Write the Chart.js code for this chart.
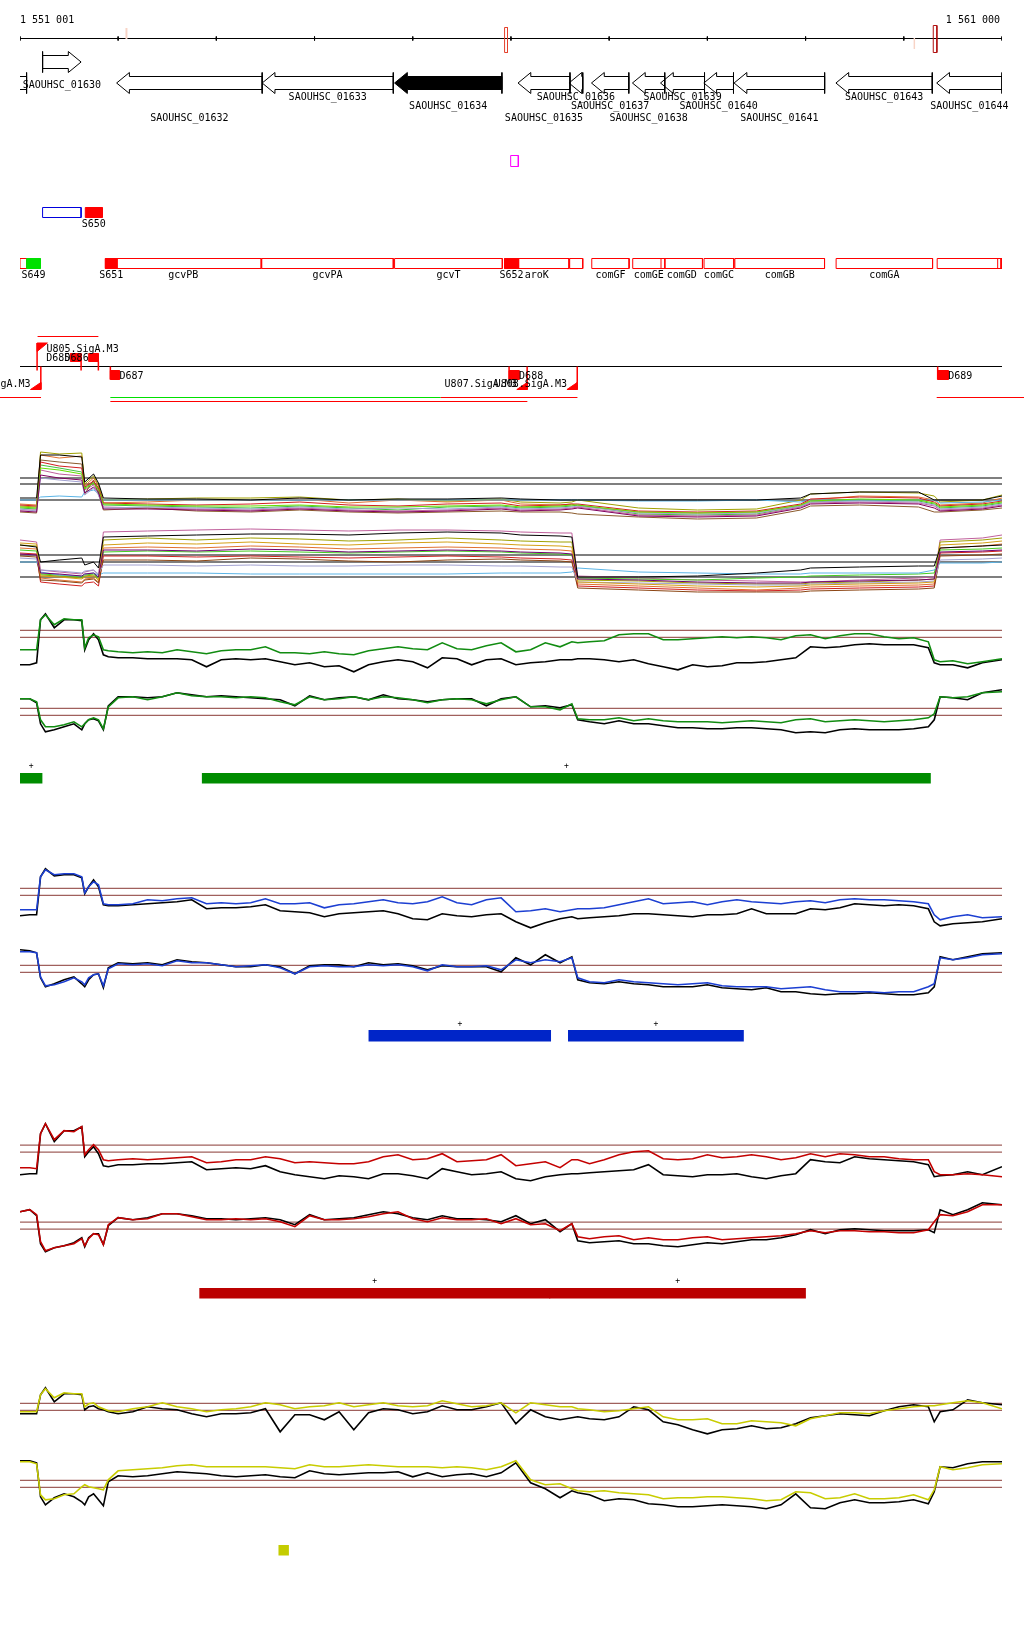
<!DOCTYPE html>
<html>
<head>
<meta charset="utf-8">
<title>1 551 001 - 1 561 000</title>
<script src="https://cdn.jsdelivr.net/npm/chart.js@4.4.1/dist/chart.umd.min.js"></script>
<style>
html, body { margin: 0; padding: 0; background: #fff; }
canvas { display: block; }
</style>
</head>
<body>
<canvas id="view" width="1024" height="1640"></canvas>
<script>
// shown region
var viewStart = 1551001;
var viewEnd = 1561000;
var rulerTicks = [1551001, 1552000, 1553000, 1554000, 1555000, 1556000, 1557000, 1558000, 1559000, 1560000, 1561000];
var rulerMarkStart = [1552075, 1555935, 1560100, 1560300];
var rulerMarkEnd = [1552095, 1555965, 1560115, 1560337];
var rulerMarkKind = ['faint', 'box', 'faint', 'boxDark'];

// genes
var geneNames = ['SAOUHSC_01630', '', 'SAOUHSC_01632', 'SAOUHSC_01633', 'SAOUHSC_01634', 'SAOUHSC_01635', 'SAOUHSC_01636',
  'SAOUHSC_01637', 'SAOUHSC_01638', 'SAOUHSC_01639', 'SAOUHSC_01640', 'SAOUHSC_01641', 'SAOUHSC_01643', 'SAOUHSC_01644'];
var geneStart = [1551231, 1550700, 1551985, 1553467, 1554815, 1556072, 1556591, 1556820, 1557237, 1557523, 1557964, 1558272, 1559309, 1560335];
var geneEnd = [1551623, 1551068, 1553467, 1554802, 1555908, 1556601, 1556731, 1557200, 1557566, 1557971, 1558266, 1559194, 1560290, 1561000];
var geneStrand = [1, -1, -1, -1, -1, -1, -1, -1, -1, -1, -1, -1, -1, -1];
var selectedGene = 'SAOUHSC_01634';

// annotated features
var featNames = ['', 'gcvPB', 'gcvPA', 'gcvT', 'aroK', '', 'comGF', 'comGE', 'comGD', 'comGC', 'comGB', 'comGA', '', ''];
var featStart = [1551001, 1551870, 1553463, 1554815, 1555935, 1556598, 1556823, 1557240, 1557528, 1557966, 1558280, 1559311, 1560340, 1560956];
var featEnd = [1551068, 1553457, 1554802, 1555912, 1556591, 1556731, 1557203, 1557567, 1557950, 1558269, 1559193, 1560293, 1561000, 1560990];
var siteNames = ['S649', 'S651', 'S652'];
var siteStart = [1551068, 1551870, 1555935];
var siteEnd = [1551208, 1551989, 1556078];
var greenSites = ['S649'];
var upperSite = ['S650', 1551666, 1551839];
var blueBox = [1551231, 1551623];
var magentaBox = [1555997, 1556075];

// promoters, sites, transcripts
var promNames = ['U804.SigA.M3', 'U805.SigA.M3', 'U807.SigA.M3', 'U808.SigA.M3'];
var promPos = [1551213, 1551175, 1556165, 1556675];
var promStrand = [-1, 1, -1, -1];
var dNames = ['D685', 'D686', 'D687', 'D688', 'D689'];
var dStart = [1551514, 1551700, 1551921, 1555981, 1560345];
var dEnd = [1551623, 1551799, 1552013, 1556083, 1560453];
var dStrand = [1, 1, -1, -1, -1];
var txStart = [1551180, 1550790, 1551921, 1555285, 1551921, 1560335];
var txEnd = [1551799, 1551215, 1555285, 1556677, 1556167, 1561250];
var txLane = [0, 1, 1, 1, 2, 1];
var txKind = ['r', 'r', 'g', 'r', 'r', 'r'];

// profile panel with all conditions
var posA = [1551001, 1551170, 1551210, 1551400, 1551630, 1551660, 1551750, 1551800, 1551850, 1552300, 1552800, 1553350, 1553850, 1554350, 1554850, 1555350,
  1555900, 1556100, 1556500, 1556620, 1556680, 1557300, 1557900, 1558500, 1558950, 1559050, 1559550, 1560150, 1560310, 1560370, 1560800, 1561000];
var refLevelsUp = [2.2, 1.6, 0];
var refLevelsLo = [0.7, 0, -1.5];
var aUpRef = [0.2,0.2,4.5,4.5,4.3,1.8,2.6,1.7,0.2,0.1,0.1,0,0.2,0,0.1,0.1,0.2,0.1,0,0,0,0,0,0,0.2,0.6,0.8,0.8,0,0,0,0.4];
var aUp1 = [-0.4,-0.5,4.5,4.2,4.4,1.4,2.2,1.4,-0.3,-0.2,0,0,0.1,-0.3,0,-0.2,0,-0.4,-0.5,-0.4,-0.6,-1.2,-1.3,-1.2,-0.5,0,0.4,0.3,0,-0.5,-0.3,0.2];
var aUp2 = [-0.6,-0.7,4.8,4.6,4.7,1.6,2.4,1.5,0,0.1,0.2,0.2,0.3,0,0.1,-0.1,0.1,-0.2,-0.3,-0.2,0,-0.8,-1.0,-0.9,0,0.6,0.8,0.7,0.4,-0.2,0,0.5];
var aUp3 = [-0.8,-0.9,3.5,3.2,2.8,1.2,1.8,1.1,-0.5,-0.6,-0.7,-0.8,-0.6,-0.8,-1.0,-0.7,-0.6,-0.8,-0.7,-0.6,-0.5,-1.4,-1.5,-1.4,-0.6,-0.2,0,-0.1,-0.4,-0.8,-0.6,-0.3];
var aUp4 = [-1.0,-1.0,3.0,2.6,2.4,1.0,1.5,0.9,-0.7,-0.8,-0.9,-1.0,-0.8,-1.0,-1.1,-1.0,-0.8,-1.0,-0.9,-0.8,-0.7,-1.5,-1.6,-1.5,-0.7,-0.3,-0.2,-0.3,-0.6,-1.0,-0.8,-0.5];
var aUp5 = [0,0,0.3,0.4,0.3,0.8,1.0,0.7,0,0,0,0,0,0,0,0,0,0,0,0,0,-0.1,-0.1,0,-0.2,0,0,0,0,-0.3,-0.2,0];
var aUp6 = [-1.2,-1.3,4.0,3.8,3.6,0.6,2.0,0.6,-1.0,-0.8,-1.1,-1.2,-1.0,-1.2,-1.3,-1.2,-1.1,-1.2,-1.2,-1.3,-1.4,-1.7,-1.9,-1.8,-1.0,-0.6,-0.5,-0.7,-1.2,-1.2,-1.0,-0.8];
var aUp7 = [-0.5,-0.6,3.8,3.4,3.2,1.3,1.9,1.2,-0.3,-0.4,-0.5,-0.4,-0.2,-0.5,-0.6,-0.4,-0.3,-0.6,-0.5,-0.4,-0.4,-1.1,-1.2,-1.1,-0.4,0.1,0.3,0.2,-0.2,-0.6,-0.4,-0.1];
var aUp8 = [-0.9,-1.1,2.2,2.0,1.8,0.5,1.2,0.5,-0.8,-0.7,-0.8,-0.9,-0.7,-0.9,-0.8,-0.9,-0.7,-0.9,-0.8,-0.7,-0.6,-1.3,-1.4,-1.3,-0.6,-0.2,-0.1,-0.2,-0.5,-0.9,-0.7,-0.4];
var aUp9 = [-0.7,-0.8,3.2,3.0,2.6,1.1,1.7,1.0,-0.4,-0.5,-0.6,-0.6,-0.5,-0.7,-0.7,-0.6,-0.5,-0.7,-0.6,-0.5,-0.5,-1.2,-1.3,-1.2,-0.5,-0.1,0.1,0,-0.3,-0.7,-0.5,-0.2];
var aUp10 = [-1.1,-1.2,2.5,2.2,2.0,0.7,1.3,0.8,-0.9,-0.9,-1.0,-1.1,-0.9,-1.1,-1.2,-1.1,-0.9,-1.1,-1.0,-0.9,-0.8,-1.6,-1.7,-1.6,-0.8,-0.4,-0.3,-0.4,-0.8,-1.1,-0.9,-0.6];
var aLoRef = [1.7,1.5,0,0.2,0.4,-0.3,0,-0.6,2.5,2.6,2.7,2.8,2.8,2.7,2.9,3.0,2.9,2.7,2.6,2.5,-1.5,-1.5,-1.4,-1.1,-0.8,-0.6,-0.5,-0.4,-0.4,1.4,1.6,1.7];
var aLo1 = [2.2,2.0,-0.8,-1.0,-1.2,-1.0,-0.8,-1.3,3.0,3.1,3.2,3.3,3.2,3.1,3.2,3.2,3.1,3.0,2.9,2.9,-1.4,-1.6,-1.8,-1.9,-2.0,-2.0,-1.8,-1.6,-1.5,2.2,2.4,2.7];
var aLo2 = [1.7,1.6,-1.3,-1.4,-1.6,-1.4,-1.3,-1.8,2.2,2.4,2.2,2.4,2.3,2.1,2.2,2.4,2.2,2.1,2.0,2.0,-1.8,-1.9,-2.1,-2.2,-2.2,-2.1,-2.0,-1.8,-1.7,2.0,2.2,2.4];
var aLo3 = [1.4,1.3,-1.6,-1.8,-2.0,-1.7,-1.6,-2.0,1.4,1.5,1.4,1.6,1.5,1.3,1.4,1.5,1.4,1.3,1.2,1.1,-2.2,-2.4,-2.6,-2.8,-2.6,-2.5,-2.4,-2.3,-2.2,1.4,1.6,1.8];
var aLo4 = [1.2,1.1,-1.2,-1.3,-1.5,-1.3,-1.2,-1.6,1.0,1.1,1.0,1.1,1.0,0.9,1.0,1.1,1.0,0.9,0.8,0.7,-1.6,-1.7,-1.8,-1.6,-1.5,-1.4,-1.3,-1.2,-1.1,1.2,1.3,1.4];
var aLo5 = [0,0,-1.0,-1.3,-1.4,-1.2,-1.1,-1.3,-1.1,-1.1,-1.1,-1.2,-1.2,-1.2,-1.2,-1.2,-1.1,-1.1,-1.1,-1.0,-0.6,-1.0,-1.1,-1.2,-1.2,-1.1,-1.1,-1.1,-0.8,-0.1,-0.1,0];
var aLo6 = [0.9,0.8,-2.0,-2.2,-2.4,-2.1,-2.0,-2.4,0.6,0.6,0.5,0.6,0.5,0.4,0.5,0.6,0.5,0.4,0.3,0.2,-2.4,-2.6,-2.8,-2.9,-2.8,-2.7,-2.6,-2.5,-2.4,0.9,1.0,1.1];
var aLo7 = [0.6,0.5,-1.8,-1.9,-2.1,-1.8,-1.7,-2.1,0.2,0.2,0.1,0.4,0.3,0.1,0,0.2,0.3,0.2,0.1,0,-2.6,-2.8,-3.0,-3.0,-3.0,-2.9,-2.8,-2.7,-2.6,0.6,0.7,0.8];
var aLo8 = [0.4,0.3,-0.8,-0.9,-1.1,-0.9,-0.8,-1.2,-0.3,-0.3,-0.4,-0.3,-0.4,-0.4,-0.3,-0.3,-0.4,-0.4,-0.5,-0.5,-2.0,-2.1,-2.2,-2.3,-2.3,-2.2,-2.1,-2.0,-1.9,0.2,0.3,0.4];
var aLo9 = [1.9,1.8,-1.4,-1.5,-1.7,-1.5,-1.4,-1.8,1.7,1.9,1.8,2.0,1.8,1.7,1.9,2.0,1.8,1.7,1.6,1.5,-2.0,-2.2,-2.4,-2.5,-2.4,-2.3,-2.2,-2.1,-2.0,1.7,1.9,2.1];
var aLo10 = [0.8,0.7,-1.1,-1.2,-1.4,-1.2,-1.1,-1.5,1.2,1.2,1.1,1.3,1.2,1.0,1.1,1.2,1.1,1.0,0.9,0.8,-1.7,-1.8,-2.0,-2.1,-2.1,-2.0,-1.9,-1.8,-1.7,1.0,1.1,1.2];

// profiles of the four selected conditions (upper = forward, lower = reverse strand)
var pos = [1551001,1551100,1551170,1551210,1551260,1551350,1551450,1551550,1551630,1551660,1551700,1551750,1551800,1551850,1551900,
  1552000,1552150,1552300,1552450,1552600,1552750,1552900,1553050,1553200,1553350,1553500,1553650,1553800,1553950,1554100,1554250,1554400,
  1554550,1554700,1554850,1555000,1555150,1555300,1555450,1555600,1555750,1555900,1556050,1556200,1556350,1556500,1556620,1556680,
  1556800,1556950,1557100,1557250,1557400,1557550,1557700,1557850,1558000,1558150,1558300,1558450,1558600,1558750,1558900,1559050,
  1559200,1559350,1559500,1559650,1559800,1559950,1560100,1560250,1560310,1560370,1560500,1560650,1560800,1561000];
var threshold = 0.35;

var greenUp = [-1.6,-1.6,-1.6,1.4,1.9,0.9,1.5,1.4,1.4,-1.4,-0.4,-0.1,-0.3,-1.6,-1.7,-1.8,-1.9,-1.8,-1.9,-1.6,-1.8,-2.0,-1.7,-1.6,-1.6,-1.3,-1.9,-1.9,-2.0,-1.8,-2.0,-2.1,-1.7,-1.5,-1.3,-1.5,-1.6,-0.9,-1.5,-1.6,-1.2,-0.9,-1.8,-1.6,-0.9,-1.3,-0.8,-0.9,-0.8,-0.7,-0.1,0.0,0.0,-0.6,-0.6,-0.5,-0.4,-0.3,-0.4,-0.3,-0.4,-0.6,-0.2,-0.1,-0.5,-0.2,0.0,0.0,-0.3,-0.5,-0.4,-0.8,-2.6,-2.8,-2.7,-3.0,-2.8,-2.5];
var greenUpRef = [-3.1,-3.1,-2.9,1.4,2.0,0.6,1.4,1.4,1.3,-1.6,-0.6,0.0,-0.6,-2.1,-2.3,-2.4,-2.4,-2.5,-2.5,-2.5,-2.6,-3.3,-2.6,-2.5,-2.6,-2.5,-2.8,-3.1,-2.9,-3.3,-3.2,-3.8,-3.1,-2.8,-2.6,-2.8,-3.4,-2.4,-2.5,-3.1,-2.6,-2.5,-3.1,-2.9,-2.8,-2.6,-2.6,-2.5,-2.5,-2.6,-2.8,-2.6,-3.0,-3.3,-3.6,-3.1,-3.3,-3.2,-2.9,-2.9,-2.8,-2.6,-2.4,-1.3,-1.4,-1.3,-1.1,-1.0,-1.1,-1.1,-1.1,-1.4,-2.9,-3.1,-3.1,-3.4,-2.9,-2.6];
var greenLo = [1.3,1.3,1.0,-0.8,-1.5,-1.5,-1.3,-1.0,-1.5,-1.2,-0.8,-0.6,-0.8,-1.7,0.5,1.4,1.5,1.2,1.5,1.9,1.6,1.5,1.5,1.4,1.5,1.4,1.0,0.7,1.5,1.2,1.3,1.5,1.2,1.5,1.4,1.2,0.9,1.2,1.3,1.2,0.8,1.2,1.5,0.5,0.5,0.2,0.8,-0.7,-0.8,-0.8,-0.6,-0.9,-0.7,-0.9,-1.0,-1.0,-1.0,-1.1,-1.0,-0.9,-1.0,-1.1,-0.8,-0.7,-1.0,-0.9,-0.8,-0.9,-1.0,-0.9,-0.8,-0.6,-0.2,1.5,1.4,1.5,1.9,2.0];
var greenLoRef = [1.3,1.3,0.9,-1.2,-2.0,-1.8,-1.5,-1.2,-1.8,-1.2,-0.8,-0.7,-0.9,-1.8,0.6,1.5,1.5,1.4,1.5,1.9,1.7,1.5,1.6,1.5,1.4,1.3,1.2,0.6,1.6,1.2,1.4,1.5,1.2,1.7,1.3,1.2,1.0,1.2,1.3,1.3,0.6,1.3,1.5,0.5,0.6,0.4,0.7,-0.8,-1.0,-1.2,-0.9,-1.2,-1.2,-1.4,-1.6,-1.6,-1.7,-1.7,-1.6,-1.6,-1.7,-1.8,-2.1,-2.0,-2.1,-1.8,-1.7,-1.8,-1.8,-1.8,-1.7,-1.5,-0.8,1.5,1.4,1.2,1.9,2.2];

var blueUp = [-1.8,-1.8,-1.8,1.5,2.2,1.7,1.8,1.8,1.5,-0.1,0.5,1.0,0.7,-1.2,-1.3,-1.3,-1.2,-0.8,-0.9,-0.7,-0.6,-1.2,-1.1,-1.2,-1.1,-0.7,-1.2,-1.2,-1.1,-1.6,-1.3,-1.2,-1.0,-0.8,-1.1,-1.2,-1.0,-0.5,-1.1,-1.3,-0.8,-0.6,-2.0,-1.9,-1.7,-2.0,-1.8,-1.7,-1.7,-1.6,-1.3,-1.0,-0.7,-1.2,-1.1,-1.0,-1.3,-1.0,-0.8,-1.0,-1.1,-1.2,-1.0,-0.9,-1.1,-0.8,-0.7,-0.8,-0.8,-0.9,-1.0,-1.2,-2.3,-2.8,-2.5,-2.3,-2.6,-2.5];
var blueUpRef = [-2.4,-2.3,-2.3,1.5,2.3,1.6,1.7,1.7,1.4,-0.2,0.5,1.2,0.5,-1.3,-1.4,-1.4,-1.3,-1.2,-1.1,-1.0,-0.8,-1.7,-1.6,-1.6,-1.5,-1.3,-1.9,-2.0,-2.1,-2.5,-2.2,-2.1,-2.0,-1.9,-2.2,-2.7,-2.8,-2.2,-2.4,-2.5,-2.3,-2.2,-3.0,-3.6,-3.1,-2.7,-2.5,-2.7,-2.6,-2.5,-2.4,-2.2,-2.2,-2.3,-2.4,-2.5,-2.3,-2.3,-2.2,-1.7,-2.2,-2.2,-2.2,-1.7,-1.8,-1.6,-1.2,-1.3,-1.4,-1.3,-1.4,-1.7,-3.0,-3.4,-3.2,-3.1,-3.0,-2.7];
var blueLo = [1.7,1.7,1.6,-0.8,-1.7,-1.6,-1.3,-0.9,-1.3,-1.6,-0.9,-0.6,-0.5,-1.7,0.0,0.5,0.4,0.5,0.3,0.8,0.6,0.6,0.4,0.2,0.3,0.4,0.1,-0.5,0.2,0.3,0.2,0.2,0.4,0.3,0.4,0.2,-0.2,0.4,0.2,0.2,0.3,-0.1,0.9,0.6,0.9,0.7,1.1,-0.9,-1.3,-1.4,-1.1,-1.3,-1.4,-1.5,-1.6,-1.5,-1.4,-1.7,-1.8,-1.8,-1.8,-2.0,-1.9,-1.8,-2.1,-2.3,-2.3,-2.3,-2.4,-2.3,-2.3,-1.8,-1.5,1.1,0.9,1.1,1.4,1.5];
var blueLoRef = [1.9,1.8,1.6,-0.9,-1.8,-1.5,-1.1,-0.8,-1.5,-1.8,-1.1,-0.6,-0.5,-1.9,0.1,0.6,0.5,0.6,0.4,0.9,0.7,0.6,0.4,0.2,0.2,0.4,0.2,-0.5,0.3,0.4,0.4,0.2,0.6,0.4,0.5,0.3,-0.1,0.3,0.2,0.2,0.2,-0.3,1.1,0.4,1.4,0.6,1.2,-1.1,-1.4,-1.5,-1.3,-1.5,-1.6,-1.8,-1.8,-1.8,-1.6,-1.9,-2.0,-2.1,-1.9,-2.3,-2.3,-2.5,-2.6,-2.5,-2.5,-2.4,-2.5,-2.6,-2.6,-2.4,-1.8,1.2,0.9,1.2,1.5,1.6];

var redUp = [-1.9,-1.9,-2.0,1.5,2.5,0.9,1.8,1.7,2.2,-0.6,-0.1,0.4,-0.1,-1.1,-1.2,-1.1,-1.0,-1.1,-1.0,-0.9,-0.8,-1.4,-1.3,-1.1,-1.1,-0.8,-1.0,-1.4,-1.3,-1.4,-1.5,-1.5,-1.3,-0.8,-0.6,-1.1,-1.0,-0.5,-1.3,-1.2,-1.1,-0.6,-1.7,-1.5,-1.3,-1.9,-1.1,-1.1,-1.5,-1.1,-0.6,-0.3,-0.2,-1.0,-1.1,-1.0,-0.6,-0.9,-0.8,-0.6,-0.8,-1.1,-0.9,-0.5,-0.8,-0.5,-0.6,-0.8,-0.8,-1.0,-1.1,-1.1,-2.3,-2.6,-2.6,-2.5,-2.6,-2.8];
var redUpRef = [-2.6,-2.5,-2.5,1.5,2.5,0.7,1.8,1.8,2.2,-0.8,-0.3,0.2,-0.5,-1.7,-1.8,-1.6,-1.6,-1.5,-1.5,-1.4,-1.3,-2.1,-2.0,-1.9,-2.0,-1.7,-2.3,-2.6,-2.8,-3.0,-2.7,-2.8,-3.0,-2.5,-2.5,-2.7,-3.0,-2.0,-2.3,-2.6,-2.5,-2.3,-3.0,-3.2,-2.8,-2.6,-2.5,-2.5,-2.4,-2.3,-2.2,-2.1,-1.6,-2.6,-2.7,-2.8,-2.6,-2.6,-2.5,-2.8,-3.0,-2.7,-2.5,-1.1,-1.3,-1.4,-0.8,-1.0,-1.1,-1.2,-1.3,-1.6,-2.8,-2.7,-2.6,-2.3,-2.6,-1.8];
var redLo = [1.4,1.6,1.1,-1.6,-2.5,-2.2,-2.0,-1.8,-1.3,-2.0,-1.3,-0.8,-0.9,-1.9,0.1,0.8,0.6,0.7,1.2,1.2,0.9,0.6,0.6,0.7,0.6,0.7,0.4,-0.1,1.0,0.6,0.6,0.7,0.9,1.2,1.4,0.7,0.4,0.8,0.6,0.6,0.7,0.2,0.7,0.1,0.2,-0.5,0.2,-1.1,-1.3,-1.1,-1.0,-1.4,-1.2,-1.4,-1.4,-1.2,-1.1,-1.4,-1.3,-1.2,-1.1,-1.0,-0.8,-0.5,-0.7,-0.5,-0.5,-0.6,-0.6,-0.7,-0.7,-0.4,0.4,1.1,1.0,1.4,2.1,2.1];
var redLoRef = [1.4,1.6,1.0,-1.8,-2.6,-2.2,-2.0,-1.7,-1.2,-2.1,-1.2,-0.8,-0.8,-1.9,0.0,0.8,0.6,0.8,1.2,1.2,1.0,0.7,0.7,0.6,0.7,0.8,0.6,0.1,1.1,0.6,0.7,0.8,1.1,1.4,1.2,0.8,0.6,1.0,0.7,0.7,0.6,0.4,1.0,0.2,0.6,-0.6,0.2,-1.5,-1.7,-1.6,-1.5,-1.8,-1.8,-2.0,-2.1,-1.9,-1.7,-1.8,-1.6,-1.4,-1.4,-1.2,-0.9,-0.4,-0.8,-0.4,-0.3,-0.4,-0.5,-0.5,-0.5,-0.4,-0.7,1.6,1.1,1.6,2.3,2.1];

var yellowUp = [-0.5,-0.5,-0.5,1.2,1.8,0.9,1.4,1.3,1.3,0.0,0.3,0.4,0.0,-0.2,-0.4,-0.5,-0.2,0.0,0.4,0.0,-0.2,-0.5,-0.3,-0.2,0.0,0.4,0.2,-0.2,0.0,0.1,0.4,0.0,0.2,0.4,0.1,0.0,0.1,0.6,0.3,0.0,0.1,0.4,-0.6,0.4,0.2,0.0,0.0,-0.2,-0.3,-0.5,-0.4,-0.2,0.0,-1.0,-1.3,-1.3,-1.2,-1.7,-1.7,-1.4,-1.5,-1.6,-1.9,-1.2,-0.9,-0.6,-0.6,-0.7,-0.4,-0.2,0.0,0.1,0.1,0.2,0.4,0.6,0.4,-0.2];
var yellowUpRef = [-0.7,-0.7,-0.7,1.2,1.9,0.5,1.3,1.3,1.2,-0.3,0.0,0.1,-0.2,-0.3,-0.5,-0.7,-0.5,0.0,-0.2,-0.3,-0.7,-1.0,-0.7,-0.7,-0.6,-0.2,-2.5,-0.8,-0.8,-1.3,-0.5,-2.3,-0.6,-0.2,-0.3,-0.7,-0.5,0.1,-0.3,-0.3,0.0,0.4,-1.7,-0.3,-1.0,-1.3,-1.1,-1.0,-1.2,-1.3,-1.0,0.0,-0.3,-1.5,-1.8,-2.3,-2.7,-2.3,-2.2,-1.9,-2.2,-2.1,-1.7,-1.1,-0.9,-0.7,-0.8,-0.9,-0.4,0.0,0.2,0.0,-1.5,-0.5,-0.3,0.7,0.4,0.2];
var yellowLo = [2.2,2.2,2.0,-1.1,-1.6,-1.5,-1.1,-1.0,-0.3,-0.1,-0.3,-0.4,-0.5,-0.6,0.4,1.3,1.4,1.5,1.6,1.8,1.9,1.7,1.7,1.7,1.7,1.7,1.6,1.5,1.9,1.7,1.7,1.8,1.9,1.8,1.7,1.7,1.7,1.6,1.7,1.6,1.4,1.7,2.3,0.4,-0.1,0.0,-0.5,-0.7,-0.8,-0.7,-0.9,-1.0,-1.1,-1.5,-1.4,-1.4,-1.3,-1.3,-1.4,-1.5,-1.7,-1.6,-0.8,-0.9,-1.5,-1.4,-1.0,-1.5,-1.5,-1.4,-1.1,-1.6,-0.6,1.7,1.4,1.6,1.9,2.0];
var yellowLoRef = [2.3,2.3,2.1,-1.3,-2.1,-1.4,-1.0,-1.3,-1.8,-2.1,-1.3,-1.0,-1.6,-2.2,0.2,0.8,0.7,0.8,1.0,1.2,1.1,1.0,0.8,0.7,0.8,0.9,0.7,0.6,1.3,1.0,0.9,1.0,1.1,1.1,1.2,0.7,1.1,0.7,0.9,1.0,0.7,1.1,2.1,0.1,-0.5,-1.4,-0.7,-0.9,-1.1,-1.7,-1.5,-1.6,-2.0,-2.1,-2.3,-2.3,-2.2,-2.1,-2.2,-2.3,-2.5,-2.1,-1.0,-2.4,-2.5,-1.9,-1.6,-1.9,-1.9,-1.8,-1.6,-2.0,-0.8,1.7,1.6,2.0,2.2,2.2];

// enriched segments per condition
var greenRegions = [[1551001, 1551229], [1552853, 1560275]];
var blueRegions = [[1554550, 1556408], [1556581, 1558371]];
var redRegions = [[1552827, 1556400], [1556390, 1559003]];
var yellowRegions = [[1553633, 1553739]];

// ---------- layout and styles ----------
var layout = {
  rulerY: 38.5, tickY: [36.5, 40.5], rulerLabelY: 20,
  rulerMarkY: [[28, 39], [27.5, 52.5], [38, 49], [25.5, 52.5]],
  fwdBody: [55.5, 68.5], fwdHead: [51.5, 72.5], fwdLabelY: 85,
  revBody: [76.5, 89.5], revHead: [72.5, 93.5], revLabelY: [118.5, 97.5, 106.5],
  headLen: 130,
  magentaY: [155.5, 166.5],
  siteRowY: [207.5, 217.5], siteRowLabelY: 224.5,
  featY: [258.5, 268.5], featLabelY: 275.5,
  txLaneY: [336.5, 397.5, 401.5],
  promFwdY: [343, 351.5], promRevY: [382.5, 389.5], promTri: 105,
  promLabelFwdY: 349.5, promLabelRevY: 384,
  strandY: 366.5, stemY: 370.5,
  dFwdY: [353.5, 361.5], dRevY: [370.5, 379.5], dLabelFwdY: 358.5, dLabelRevY: 376,
  pxPerUnit: 10
};
var axisCenter = { aUp: 500, aLo: 562, bUp: 633.8, bLo: 711.8, cUp: 891.8, cLo: 968.8, dUp: 1148.7, dLo: 1225.7, eUp: 1406.8, eLo: 1483.8 };
var RED = '#ff0000';
var font = '10px "DejaVu Sans Mono", "Liberation Mono", monospace';
var colorsUpA = ['#e07030', '#a0a000', '#40c040', '#c0609c', '#5ab4e6', '#8b5a2b', '#d02020', '#a0a0d0', '#66dd00', '#800060'];
var colorsLoA = ['#c0609c', '#a0a000', '#e07030', '#44cc22', '#5ab4e6', '#d02020', '#8b4513', '#a0a0d0', '#d4a017', '#700070'];

var tracks = [
  { up: 'bUp', lo: 'bLo', line: '#118c11', bar: '#008c00', vals: [greenUp, greenUpRef, greenLo, greenLoRef], regions: greenRegions, barY: [773, 783.5], plusY: 766, plus: true },
  { up: 'cUp', lo: 'cLo', line: '#1c3fd2', bar: '#0025c8', vals: [blueUp, blueUpRef, blueLo, blueLoRef], regions: blueRegions, barY: [1030, 1041.5], plusY: 1023.5, plus: true },
  { up: 'dUp', lo: 'dLo', line: '#c40000', bar: '#bb0000', vals: [redUp, redUpRef, redLo, redLoRef], regions: redRegions, barY: [1288, 1298.5], plusY: 1281, plus: true },
  { up: 'eUp', lo: 'eLo', line: '#c8cc00', bar: '#c4cc00', vals: [yellowUp, yellowUpRef, yellowLo, yellowLoRef], regions: yellowRegions, barY: [1545, 1555.5], plusY: 1538, plus: false }
];

// ---------- build datasets ----------
var datasets = [];
var labels = [];
function P(x, y) { return { x: x, y: y }; }
function box(x0, x1, y0, y1) { return [P(x0, y0), P(x1, y0), P(x1, y1), P(x0, y1), P(x0, y0)]; }
function path(points, o) {
  o = o || {};
  var ds = {
    data: points,
    yAxisID: o.axis || 'rows',
    borderColor: o.stroke || 'transparent',
    borderWidth: o.stroke ? (o.width || 1) : 0,
    backgroundColor: o.fill || 'transparent',
    fill: o.fill ? 'shape' : false,
    pointRadius: 0,
    tension: 0
  };
  if (o.noClip) ds.clip = false;
  datasets.push(ds);
}
function label(text, x, y, align, f) { labels.push({ text: text, x: x, y: y, align: align || 'center', font: f || font }); }
function fmt(n) { return String(n).replace(/\B(?=(\d{3})+(?!\d))/g, ' '); }
function series(p, v) { return p.map(function (x, i) { return P(x, v[i]); }); }
var L = layout;

// ruler
path([P(viewStart, L.rulerY), P(viewEnd, L.rulerY)], { stroke: '#000' });
var tickPts = [];
rulerTicks.forEach(function (t) { tickPts.push(P(t, L.tickY[0]), P(t, L.tickY[1]), P(t, null)); });
path(tickPts, { stroke: '#000' });
rulerMarkStart.forEach(function (s, i) {
  var y = L.rulerMarkY[i], k = rulerMarkKind[i];
  if (k === 'faint') path(box(s, rulerMarkEnd[i], y[0], y[1]), { fill: '#f8d4c6' });
  else path(box(s, rulerMarkEnd[i], y[0], y[1]), { stroke: k === 'box' ? '#e4402c' : '#b01010' });
});
label(fmt(viewStart), viewStart, L.rulerLabelY, 'left');
label(fmt(viewEnd), viewEnd - 20, L.rulerLabelY, 'right');

// genes
var revCount = 0;
geneStart.forEach(function (s, i) {
  var e = geneEnd[i], fwd = geneStrand[i] > 0;
  var body = fwd ? L.fwdBody : L.revBody, head = fwd ? L.fwdHead : L.revHead;
  var mid = (head[0] + head[1]) / 2, h = Math.min(L.headLen, e - s), pts, hb;
  if (fwd) {
    hb = e - h;
    pts = [P(s, body[0]), P(hb, body[0]), P(hb, head[0]), P(e, mid), P(hb, head[1]), P(hb, body[1]), P(s, body[1]), P(s, body[0])];
  } else {
    hb = s + h;
    pts = [P(e, body[0]), P(hb, body[0]), P(hb, head[0]), P(s, mid), P(hb, head[1]), P(hb, body[1]), P(e, body[1]), P(e, body[0])];
  }
  var sel = geneNames[i] === selectedGene;
  path(pts, { stroke: '#000', fill: sel ? '#000' : null });
  var cap = fwd ? s : e;
  path([P(cap, head[0]), P(cap, head[1])], { stroke: '#000' });
  if (geneNames[i]) {
    var ly = fwd ? L.fwdLabelY : L.revLabelY[revCount++ % 3];
    label(geneNames[i], (s + e) / 2, ly);
  }
});

// small marks above the feature row
path(box(magentaBox[0], magentaBox[1], L.magentaY[0], L.magentaY[1]), { stroke: '#ff00ff' });
path(box(blueBox[0], blueBox[1], L.siteRowY[0], L.siteRowY[1]), { stroke: '#0000dd' });
path(box(upperSite[1], upperSite[2], L.siteRowY[0], L.siteRowY[1]), { fill: RED, stroke: RED });
label(upperSite[0], (upperSite[1] + upperSite[2]) / 2, L.siteRowLabelY);

// feature row
featStart.forEach(function (s, i) {
  path(box(s, featEnd[i], L.featY[0], L.featY[1]), { stroke: RED });
  if (featNames[i]) label(featNames[i], (s + featEnd[i]) / 2, L.featLabelY);
});
siteStart.forEach(function (s, i) {
  var c = greenSites.indexOf(siteNames[i]) >= 0 ? '#00e000' : RED;
  path(box(s, siteEnd[i], L.featY[0], L.featY[1]), { fill: c, stroke: c });
  label(siteNames[i], (s + siteEnd[i]) / 2, L.featLabelY);
});

// transcripts, promoters, sites
txStart.forEach(function (s, i) {
  var y = L.txLaneY[txLane[i]];
  path([P(s, y), P(txEnd[i], y)], { stroke: txKind[i] === 'g' ? '#00e000' : RED, width: 1.2, noClip: true });
});
path([P(viewStart, L.strandY), P(viewEnd, L.strandY)], { stroke: '#000' });
promPos.forEach(function (p, i) {
  var t = L.promTri;
  if (promStrand[i] > 0) {
    var f = L.promFwdY;
    path([P(p, f[0]), P(p + t, f[0]), P(p, f[1]), P(p, f[0])], { fill: RED, stroke: RED });
    path([P(p, f[0]), P(p, L.stemY)], { stroke: RED, width: 1.5 });
    label(promNames[i], p + t - 10, L.promLabelFwdY, 'left');
  } else {
    var r = L.promRevY;
    path([P(p, r[0]), P(p, r[1]), P(p - t, r[1]), P(p, r[0])], { fill: RED, stroke: RED });
    path([P(p, L.strandY), P(p, r[1])], { stroke: RED, width: 1.5 });
    label(promNames[i], p - t, L.promLabelRevY, 'right');
  }
});
dStart.forEach(function (s, i) {
  var e = dEnd[i];
  if (dStrand[i] > 0) {
    path(box(s, e, L.dFwdY[0], L.dFwdY[1]), { fill: RED, stroke: RED });
    path([P(e, L.dFwdY[1]), P(e, L.stemY)], { stroke: RED, width: 1.5 });
    label(dNames[i], s, L.dLabelFwdY, 'right');
  } else {
    path(box(s, e, L.dRevY[0], L.dRevY[1]), { fill: RED, stroke: RED });
    path([P(s, L.strandY), P(s, L.dRevY[1])], { stroke: RED, width: 1.5 });
    label(dNames[i], e, L.dLabelRevY, 'left');
  }
});

// all-condition panel
refLevelsUp.forEach(function (v) { path([P(viewStart, v), P(viewEnd, v)], { axis: 'aUp', stroke: '#000', width: 1.2 }); });
refLevelsLo.forEach(function (v) { path([P(viewStart, v), P(viewEnd, v)], { axis: 'aLo', stroke: '#000', width: 1.2 }); });
[aUp1, aUp2, aUp3, aUp4, aUp5, aUp6, aUp7, aUp8, aUp9, aUp10].forEach(function (v, i) {
  path(series(posA, v), { axis: 'aUp', stroke: colorsUpA[i] });
});
path(series(posA, aUpRef), { axis: 'aUp', stroke: '#000' });
[aLo1, aLo2, aLo3, aLo4, aLo5, aLo6, aLo7, aLo8, aLo9, aLo10].forEach(function (v, i) {
  path(series(posA, v), { axis: 'aLo', stroke: colorsLoA[i] });
});
path(series(posA, aLoRef), { axis: 'aLo', stroke: '#000' });

// condition panels
tracks.forEach(function (t) {
  [t.up, t.lo].forEach(function (ax) {
    [threshold, -threshold].forEach(function (v) {
      path([P(viewStart, v), P(viewEnd, v)], { axis: ax, stroke: '#a0605c', width: 1.2 });
    });
  });
  path(series(pos, t.vals[1]), { axis: t.up, stroke: '#000', width: 1.6 });
  path(series(pos, t.vals[0]), { axis: t.up, stroke: t.line, width: 1.6 });
  path(series(pos, t.vals[3]), { axis: t.lo, stroke: '#000', width: 1.6 });
  path(series(pos, t.vals[2]), { axis: t.lo, stroke: t.line, width: 1.6 });
  t.regions.forEach(function (r) {
    path(box(r[0], r[1], t.barY[0], t.barY[1]), { fill: t.bar });
    if (t.plus) label('+', (r[0] + r[1]) / 2, t.plusY, 'center', '8px "DejaVu Sans Mono", monospace');
  });
});

// later datasets are drawn on top
datasets.reverse();

var scales = {
  x: { type: 'linear', min: viewStart, max: viewEnd, display: false },
  rows: { type: 'linear', axis: 'y', min: 0, max: 1640, reverse: true, display: false }
};
Object.keys(axisCenter).forEach(function (k) {
  var c = axisCenter[k];
  scales[k] = { type: 'linear', axis: 'y', display: false, min: (c - 1640) / L.pxPerUnit, max: c / L.pxPerUnit };
});

var textPlugin = {
  id: 'trackText',
  afterDatasetsDraw: function (chart) {
    var ctx = chart.ctx, xs = chart.scales.x, ys = chart.scales.rows;
    ctx.save();
    ctx.fillStyle = '#000';
    ctx.textBaseline = 'middle';
    labels.forEach(function (l) {
      ctx.font = l.font;
      ctx.textAlign = l.align;
      ctx.fillText(l.text, xs.getPixelForValue(l.x), ys.getPixelForValue(l.y));
    });
    ctx.restore();
  }
};

new Chart(document.getElementById('view').getContext('2d'), {
  type: 'line',
  data: { datasets: datasets },
  options: {
    responsive: false,
    animation: false,
    events: [],
    layout: { padding: { left: 20, right: 22, top: 0, bottom: 0 } },
    scales: scales,
    elements: { point: { radius: 0 }, line: { tension: 0 } },
    plugins: { legend: { display: false }, tooltip: { enabled: false } }
  },
  plugins: [textPlugin]
});
</script>
</body>
</html>
